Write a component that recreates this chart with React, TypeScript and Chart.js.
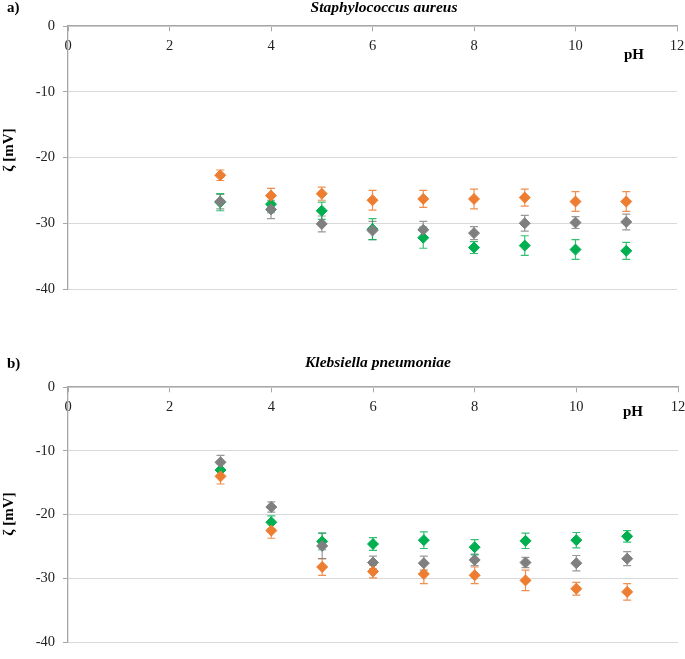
import React, { useEffect, useRef } from "react";
import { Chart, registerables } from "chart.js";

Chart.register(...registerables);

const pH = [3, 4, 5, 6, 7, 8, 9, 10, 11];
const xTicks = [0, 2, 4, 6, 8, 10, 12];
const yTicks = [0, -10, -20, -30, -40];

// a) Staphylococcus aureus
const saOrange = [-22.7, -25.8, -25.5, -26.5, -26.3, -26.3, -26.1, -26.7, -26.7];
const saOrangeErr = [0.8, 1.1, 1.0, 1.5, 1.3, 1.5, 1.3, 1.5, 1.5];
const saGray = [-26.7, -27.9, -30.1, -31.1, -31.0, -31.5, -30.0, -29.9, -29.8];
const saGrayErr = [1.1, 1.4, 1.2, 1.4, 1.3, 1.0, 1.2, 0.9, 1.2];
const saGreen = [-26.8, -27.1, -28.1, -30.9, -32.2, -33.7, -33.4, -34.0, -34.2];
const saGreenErr = [1.3, 1.3, 1.3, 1.6, 1.6, 0.9, 1.5, 1.5, 1.3];

// b) Klebsiella pneumoniae
const kpOrange = [-14.0, -22.5, -28.2, -28.9, -29.3, -29.5, -30.3, -31.6, -32.1];
const kpOrangeErr = [1.2, 1.2, 1.3, 1.0, 1.5, 1.3, 1.6, 1.0, 1.3];
const kpGray = [-11.8, -18.8, -24.9, -27.5, -27.6, -27.1, -27.5, -27.6, -26.9];
const kpGrayErr = [1.1, 0.8, 2.0, 1.0, 1.1, 0.9, 0.8, 1.2, 1.1];
const kpGreen = [-13.0, -21.2, -24.2, -24.6, -24.0, -25.1, -24.1, -24.0, -23.4];
const kpGreenErr = [1.0, 1.0, 1.3, 1.0, 1.3, 1.2, 1.2, 1.2, 0.9];

const ORANGE = "#ed7d31";
const GRAY = "#7f7f7f";
const GREEN = "#00b050";
const FONT = "'Liberation Serif', 'Times New Roman', serif";

type Labels = {
  letter: string;
  title: string;
  letterPos: [number, number];
  titlePos: [number, number];
  phPos: [number, number];
  yLabPos: [number, number];
};

const errorBarPlugin = {
  id: "errorBars",
  beforeDatasetsDraw(chart: any) {
    const ctx = chart.ctx;
    const yScale = chart.scales.y;
    chart.data.datasets.forEach((ds: any, di: number) => {
      const meta = chart.getDatasetMeta(di);
      const errs: number[] = ds.errors || [];
      ctx.save();
      ctx.strokeStyle = ds.errColor;
      ctx.lineWidth = 1.2;
      meta.data.forEach((pt: any, i: number) => {
        const v = ds.data[i].y;
        const e = errs[i] || 0;
        const x = pt.x;
        const yTop = yScale.getPixelForValue(v + e);
        const yBot = yScale.getPixelForValue(v - e);
        ctx.beginPath();
        ctx.moveTo(x, yTop);
        ctx.lineTo(x, yBot);
        ctx.moveTo(x - 4, yTop);
        ctx.lineTo(x + 4, yTop);
        ctx.moveTo(x - 4, yBot);
        ctx.lineTo(x + 4, yBot);
        ctx.stroke();
      });
      ctx.restore();
    });
  },
};

const textPlugin = {
  id: "texts",
  afterDraw(chart: any) {
    const o: Labels = chart.options.plugins.texts;
    const ctx = chart.ctx;
    ctx.save();
    ctx.fillStyle = "#000";
    ctx.textBaseline = "middle";
    ctx.font = `bold 15px ${FONT}`;
    ctx.textAlign = "left";
    ctx.fillText(o.letter, o.letterPos[0], o.letterPos[1]);
    ctx.textAlign = "center";
    ctx.fillText("pH", o.phPos[0], o.phPos[1]);
    ctx.font = `italic bold 15.5px ${FONT}`;
    ctx.fillText(o.title, o.titlePos[0], o.titlePos[1]);
    ctx.translate(o.yLabPos[0], o.yLabPos[1]);
    ctx.rotate(-Math.PI / 2);
    ctx.font = `bold 15px ${FONT}`;
    ctx.fillText("ζ [mV]", 0, 0);
    ctx.restore();
  },
};

function mk(vals: number[]) {
  return vals.map((v, i) => ({ x: pH[i], y: v }));
}

function makeConfig(
  orange: number[], orangeErr: number[],
  gray: number[], grayErr: number[],
  green: number[], greenErr: number[],
  padding: any, labels: Labels
): any {
  const ds = (data: number[], errs: number[], color: string, errColor: string) => ({
    data: mk(data),
    errors: errs,
    errColor,
    backgroundColor: color,
    borderColor: color,
    pointStyle: "rectRot",
    pointRadius: 5.5,
    pointBorderWidth: 1,
    showLine: false,
  });
  return {
    type: "scatter",
    data: {
      datasets: [
        ds(orange, orangeErr, ORANGE, "rgba(237,125,49,0.85)"),
        ds(gray, grayErr, GRAY, "rgba(127,127,127,0.8)"),
        ds(green, greenErr, GREEN, "rgba(0,176,80,0.8)"),
      ],
    },
    options: {
      animation: false,
      responsive: false,
      maintainAspectRatio: false,
      layout: { padding },
      plugins: {
        legend: { display: false },
        tooltip: { enabled: false },
        title: { display: false },
        texts: labels,
      },
      scales: {
        x: {
          type: "linear",
          position: { y: 0 },
          min: 0,
          max: 12,
          afterBuildTicks: (s: any) => {
            s.ticks = xTicks.map((v) => ({ value: v }));
          },
          afterFit: (s: any) => {
            s.paddingLeft = 0;
            s.paddingRight = 0;
          },
          ticks: {
            font: { family: FONT, size: 14.5 },
            color: "#222",
            padding: 6,
            maxRotation: 0,
            autoSkip: false,
          },
          grid: {
            display: true,
            drawOnChartArea: false,
            drawTicks: true,
            tickLength: 5,
            color: "#a6a6a6",
          },
          border: { display: true, color: "#a6a6a6", width: 1.3 },
        },
        y: {
          type: "linear",
          position: "left",
          min: -40,
          max: 0,
          afterBuildTicks: (s: any) => {
            s.ticks = yTicks.map((v) => ({ value: v }));
          },
          afterFit: (s: any) => {
            s.width = 68;
          },
          ticks: {
            font: { family: FONT, size: 14.5 },
            color: "#222",
            padding: 8,
          },
          grid: {
            color: "#d9d9d9",
            lineWidth: 1,
            tickLength: 5,
            tickColor: "#a6a6a6",
          },
          border: { display: true, color: "#a6a6a6", width: 1.3 },
        },
      },
    },
    plugins: [errorBarPlugin, textPlugin],
  };
}

function ChartBox(props: { config: () => any; height: number }) {
  const ref = useRef<HTMLCanvasElement | null>(null);
  useEffect(() => {
    if (!ref.current) return;
    const chart = new Chart(ref.current, props.config());
    return () => chart.destroy();
  }, []);
  return (
    <div style={{ width: 685, height: props.height }}>
      <canvas ref={ref} width={685} height={props.height} style={{ display: "block" }} />
    </div>
  );
}

export default function App() {
  useEffect(() => {
    document.body.style.margin = "0";
  }, []);
  return (
    <div style={{ width: 685, background: "#fff" }}>
      <ChartBox
        height={330}
        config={() =>
          makeConfig(
            saOrange, saOrangeErr, saGray, saGrayErr, saGreen, saGreenErr,
            { top: 26, left: 0, right: 8, bottom: 41 },
            {
              letter: "a)",
              title: "Staphylococcus aureus",
              letterPos: [7, 8],
              titlePos: [384, 8],
              phPos: [634, 55],
              yLabPos: [9, 150],
            }
          )
        }
      />
      <ChartBox
        height={329}
        config={() =>
          makeConfig(
            kpOrange, kpOrangeErr, kpGray, kpGrayErr, kpGreen, kpGreenErr,
            { top: 57, left: 0, right: 7, bottom: 6 },
            {
              letter: "b)",
              title: "Klebsiella pneumoniae",
              letterPos: [7, 34],
              titlePos: [378, 33],
              phPos: [633, 82],
              yLabPos: [9, 184],
            }
          )
        }
      />
    </div>
  );
}
